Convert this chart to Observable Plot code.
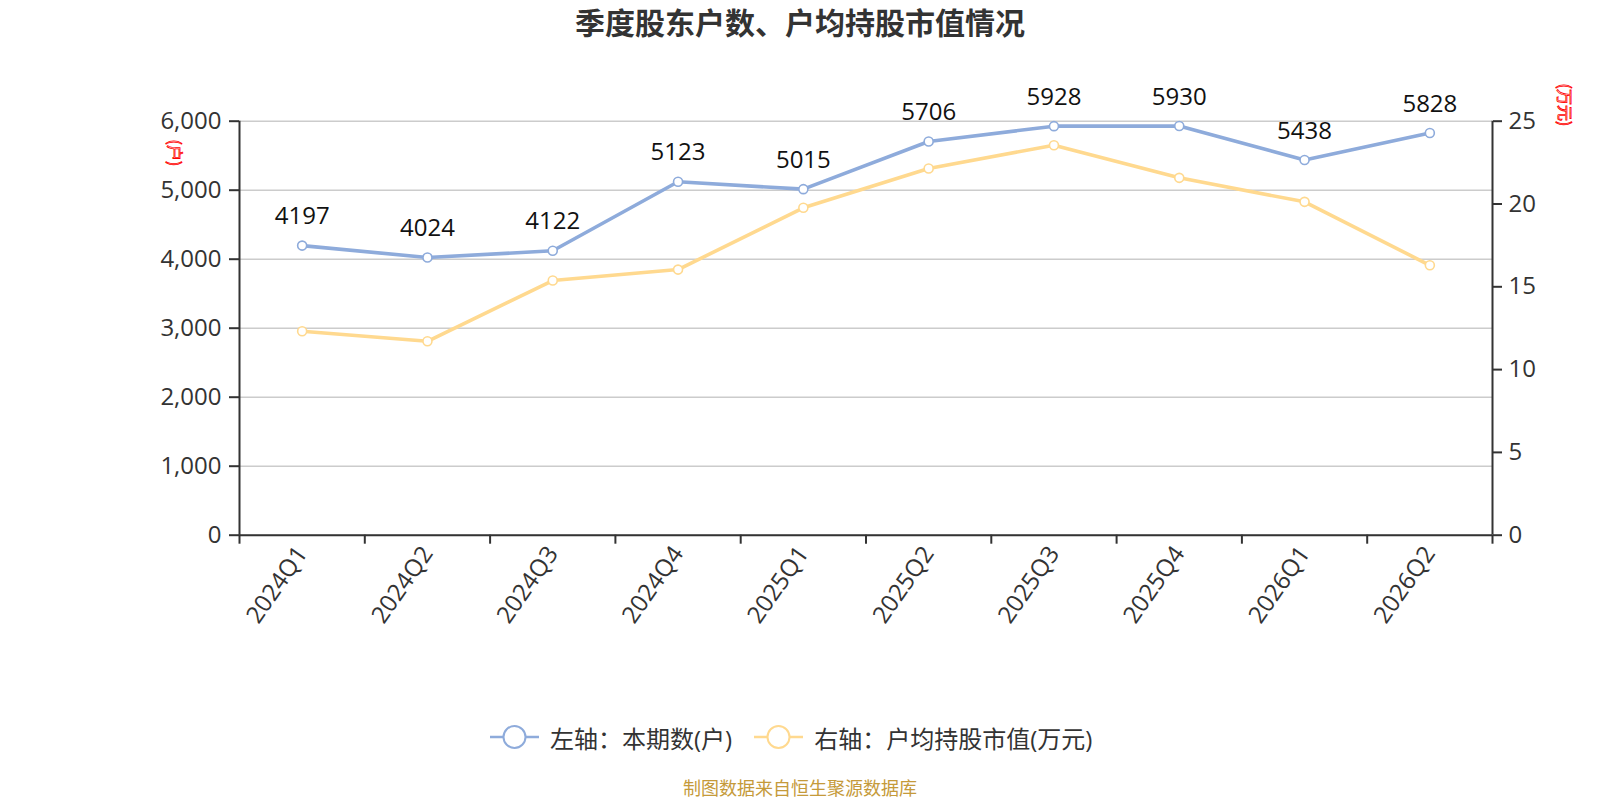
<!DOCTYPE html>
<html>
<head>
<meta charset="utf-8">
<script src="https://cdn.jsdelivr.net/npm/d3@7"></script>
<script src="https://cdn.jsdelivr.net/npm/@observablehq/plot@0.6"></script>
<style>
  html, body { margin: 0; padding: 0; background: #fff; }
  #page { position: relative; width: 1600px; height: 800px; overflow: hidden; font-family: "Open Sans", "Noto Sans CJK SC", sans-serif; }
  #title { position: absolute; left: 0; width: 1600px; top: 0px; text-align: center; font-size: 30px; font-weight: bold; color: #333; font-family: "Noto Sans CJK SC", sans-serif; line-height: 42px; }
  #chart { position: absolute; left: 0; top: 50px; }
  .unit { position: absolute; font-size: 16px; color: #fff; -webkit-text-stroke: 0.8px #f00; font-family: "Noto Sans CJK SC", sans-serif; transform: translate(-50%, -50%) rotate(90deg); white-space: nowrap; line-height: 16px; }
  #legend { position: absolute; left: 490px; top: 720px; height: 34px; display: flex; align-items: center; font-size: 24px; color: #333; }
  .item { display: flex; align-items: center; margin-right: 22px; }
  .item svg { margin-right: 11px; }
  #caption { position: absolute; left: 0; width: 1600px; top: 778px; text-align: center; font-size: 18px; color: #c59a3a; font-family: "Noto Sans CJK SC", sans-serif; line-height: 19px; }
</style>
</head>
<body>
<div id="page">
  <div id="title">季度股东户数、户均持股市值情况</div>
  <div id="chart"></div>
  <div class="unit" style="left:176px; top:153px;">(户)</div>
  <div class="unit" style="left:1566px; top:105px;">(万元)</div>
  <div id="legend"></div>
  <div id="caption">制图数据来自恒生聚源数据库</div>
</div>
<script>
const quarters = ["2024Q1","2024Q2","2024Q3","2024Q4","2025Q1","2025Q2","2025Q3","2025Q4","2026Q1","2026Q2"];
const holders = [4197, 4024, 4122, 5123, 5015, 5706, 5928, 5930, 5438, 5828];
const avgValue = [12.32, 11.71, 15.38, 16.04, 19.77, 22.14, 23.55, 21.58, 20.13, 16.30];
const leftTicks = [0, 1000, 2000, 3000, 4000, 5000, 6000];
const rightTicks = [0, 5, 10, 15, 20, 25];
const seriesNames = ["左轴：本期数(户)", "右轴：户均持股市值(万元)"];
const colors = ["#8eabdb", "#ffd98f"];

const leftMax = 6000, rightMax = 25;
const ratio = leftMax / rightMax;

const rows = quarters.map((q, i) => ({q, pos: i + 0.5, holders: holders[i], avg: avgValue[i] * ratio}));

const plot = Plot.plot({
  width: 1600,
  height: 640,
  marginTop: 70.7,
  marginBottom: 155.3,
  marginLeft: 239,
  marginRight: 108,
  style: {fontFamily: '"Open Sans", "Noto Sans CJK SC", sans-serif', background: "transparent"},
  x: {type: "linear", domain: [0, quarters.length], axis: null},
  y: {domain: [0, leftMax], axis: null},
  marks: [
    Plot.gridY(leftTicks, {stroke: "#cccccc", strokeWidth: 1.5, strokeOpacity: 1}),
    Plot.axisY(leftTicks, {anchor: "left", tickSize: 10, tickPadding: 8, tickFormat: d3.format(","), fontSize: 24, color: "#333", strokeWidth: 2, label: null}),
    Plot.axisY(rightTicks.map(v => v * ratio), {anchor: "right", tickSize: 9, tickPadding: 7, tickFormat: d => String(Math.round(d / ratio)), fontSize: 24, color: "#333", strokeWidth: 2, label: null}),
    Plot.axisX(d3.range(quarters.length + 1), {anchor: "bottom", tickSize: 9, tickFormat: () => "", color: "#333", strokeWidth: 2, label: null}),
    Plot.axisX(rows.map(d => d.pos), {anchor: "bottom", tickSize: 0, tickPadding: 14, tickRotate: -55, tickFormat: d => quarters[Math.round(d - 0.5)], fontSize: 24, color: "#333", label: null}),
    Plot.ruleX([0, quarters.length], {stroke: "#333", strokeWidth: 2}),
    Plot.ruleY([0], {stroke: "#333", strokeWidth: 2}),
    Plot.line(rows, {x: "pos", y: "avg", stroke: colors[1], strokeWidth: 3.6}),
    Plot.dot(rows, {x: "pos", y: "avg", r: 4.5, fill: "#fff", stroke: colors[1], strokeWidth: 1.6}),
    Plot.line(rows, {x: "pos", y: "holders", stroke: colors[0], strokeWidth: 3.6}),
    Plot.dot(rows, {x: "pos", y: "holders", r: 4.5, fill: "#fff", stroke: colors[0], strokeWidth: 1.6}),
    Plot.text(rows, {x: "pos", y: "holders", text: d => String(d.holders), dy: -29, fontSize: 24, fill: "#111"})
  ]
});
document.getElementById("chart").appendChild(plot);

const legend = document.getElementById("legend");
seriesNames.forEach((name, i) => {
  const item = document.createElement("div");
  item.className = "item";
  item.innerHTML = `<svg width="49" height="26" viewBox="0 0 49 26">
    <line x1="0" y1="13" x2="49" y2="13" stroke="${colors[i]}" stroke-width="2.5"/>
    <circle cx="24.5" cy="13" r="11" fill="#fff" stroke="${colors[i]}" stroke-width="2"/>
  </svg><span>${name}</span>`;
  legend.appendChild(item);
});
</script>
</body>
</html>
